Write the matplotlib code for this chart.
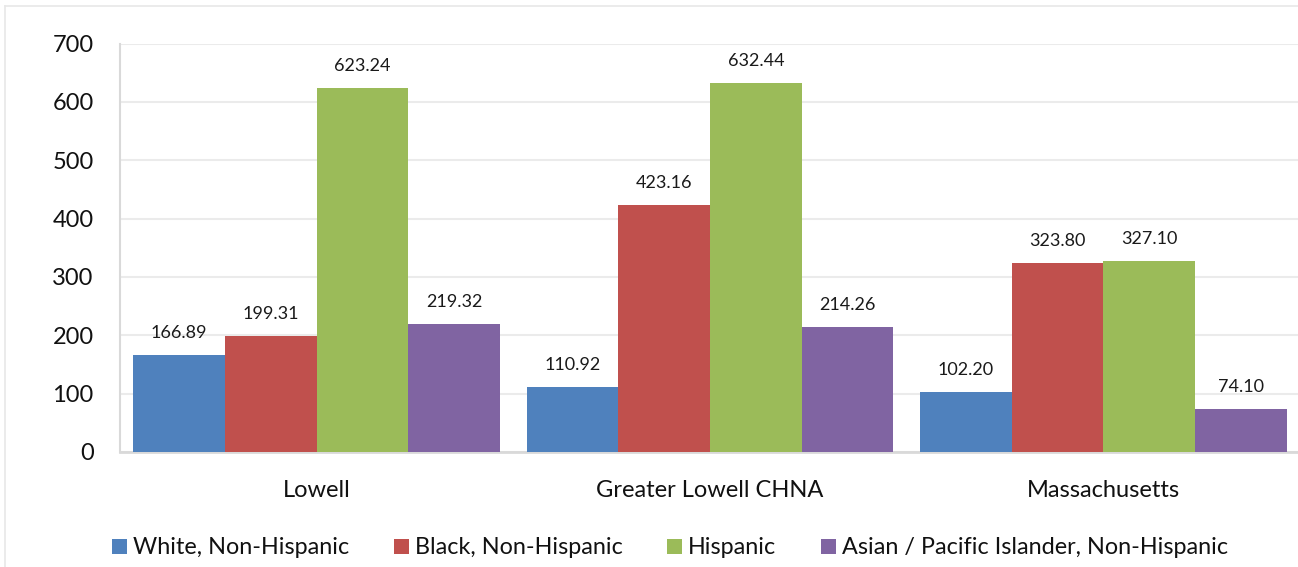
import matplotlib
matplotlib.use("Agg")
import matplotlib.pyplot as plt
from matplotlib.lines import Line2D
import numpy as np

plt.rcParams['font.family'] = ['Lato', 'DejaVu Sans']

categories = ["Lowell", "Greater Lowell CHNA", "Massachusetts"]
series_names = ["White, Non-Hispanic", "Black, Non-Hispanic", "Hispanic",
                "Asian / Pacific Islander, Non-Hispanic"]
white = [166.89, 110.92, 102.20]
black = [199.31, 423.16, 323.80]
hispanic = [623.24, 632.44, 327.10]
asian = [219.32, 214.26, 74.10]
colors = ["#4F81BD", "#C0504D", "#9BBB59", "#8064A2"]
yticks = [0, 100, 200, 300, 400, 500, 600, 700]

W, H = 1298, 567
fig = plt.figure(figsize=(W / 100, H / 100), dpi=100)
ax = fig.add_axes([120 / W, (H - 452) / H, 1180 / W, (452 - 43.5) / H])

# thin frame around the chart area
fig.add_artist(Line2D([5 / W, 1.0], [1 - 6 / H, 1 - 6 / H], color="#E8E8E8", lw=1.2,
                      transform=fig.transFigure))
fig.add_artist(Line2D([5 / W, 5 / W], [0, 1 - 6 / H], color="#E8E8E8", lw=1.2,
                      transform=fig.transFigure))

x = np.arange(len(categories))
bw = 0.233
all_series = [white, black, hispanic, asian]
for i, (vals, name, c) in enumerate(zip(all_series, series_names, colors)):
    pos = x + (i - 1.5) * bw
    bars = ax.bar(pos, vals, width=bw, color=c, label=name, zorder=3, linewidth=0)
    for b, v in zip(bars, vals):
        ax.annotate(f"{v:.2f}", (b.get_x() + b.get_width() / 2, v),
                    xytext=(0, 10), textcoords="offset points",
                    ha="center", va="bottom", fontsize=13, color="#1a1a1a")

ax.set_xlim(-0.5, 2.5)
ax.set_ylim(0, 700)
ax.set_yticks(yticks)
ax.set_yticklabels([str(t) for t in yticks], fontsize=17, color="#111111")
ax.set_xticks(x)
ax.set_xticklabels(categories, fontsize=17, color="#111111")
ax.tick_params(axis="y", length=0, pad=19)
ax.tick_params(axis="x", length=0, pad=20)
ax.grid(axis="y", color="#EBEBEB", lw=1.5, zorder=0)
for s in ["top", "right"]:
    ax.spines[s].set_visible(False)
ax.spines["left"].set_color("#D9D9D9")
ax.spines["left"].set_linewidth(1.5)
ax.spines["bottom"].set_color("#D9D9D9")
ax.spines["bottom"].set_linewidth(2)

leg = fig.legend(loc="center", bbox_to_anchor=(670 / W, 1 - 548 / H), ncol=4,
                 frameon=False, fontsize=16.8, handlelength=0.65, handleheight=0.65,
                 handletextpad=0.25, columnspacing=1.9)
for t in leg.get_texts():
    t.set_color("#111111")

fig.savefig("out.png", dpi=100)
